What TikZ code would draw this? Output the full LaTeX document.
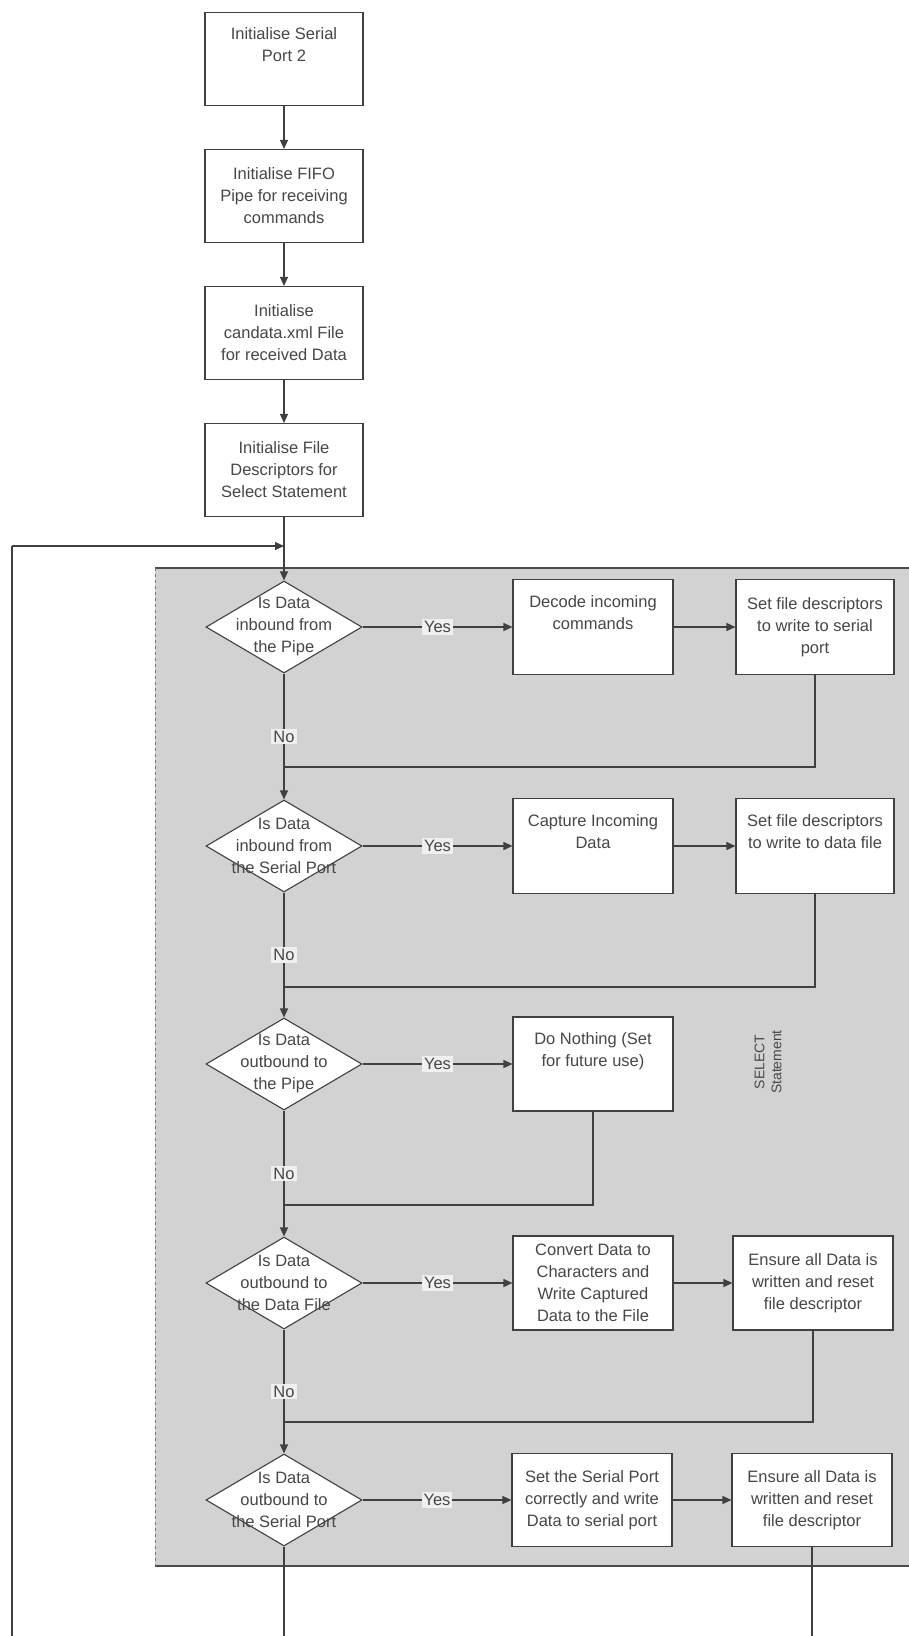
\documentclass[tikz,border=0pt]{standalone}
\usepackage{fontspec}
\setmainfont{Liberation Sans}
\usetikzlibrary{shapes.geometric,arrows.meta}
\begin{document}
\begin{tikzpicture}[x=1pt,y=-1pt,
  every node/.style={font=\fontsize{16.5}{22}\selectfont, text=black!72},
  box/.style={draw=black!75, line width=1.1pt, fill=white, minimum width=158pt, minimum height=93pt, inner sep=0pt, align=center},
  dia/.style={draw=black!75, line width=1.1pt, fill=white, diamond, minimum width=156pt, minimum height=92pt, inner sep=0pt},
  dtext/.style={align=center, inner sep=0pt},
  conn/.style={draw=black!75, line width=1.1pt},
  arr/.style={conn, -{Triangle[length=9pt,width=8pt]}},
  lab/.style={fill=gray!12, inner sep=2pt},
]
\useasboundingbox (0,0) rectangle (909,1636);
\fill[white] (0,0) rectangle (909,1636);
% grey select region
\fill[gray!35] (155,568) rectangle (909,1566);
\draw[black!70, line width=1.1pt] (155,568) -- (909,568);
\draw[black!70, line width=1.1pt] (155,1566) -- (909,1566);
\draw[black!55, line width=0.8pt, dashed] (155,568) -- (155,1566);
\node[rotate=90, align=center, font=\fontsize{14}{17}\selectfont] (sel) at (768,1062) {SELECT\\Statement};

% initialisation column
\node[box] (b1) at (284,59) {Initialise Serial\\Port 2\\\strut};
\node[box] (b2) at (284,196) {Initialise FIFO\\Pipe for receiving\\commands};
\node[box] (b3) at (284,333) {Initialise\\candata.xml File\\for received Data};
\node[box] (b4) at (284,470) {Initialise File\\Descriptors for\\Select Statement};

% decisions
\node[dia] (d1) at (284,627) {};
\node[dtext] (d1t) at (d1.center) {Is Data\\inbound from\\the Pipe};
\node[dia] (d2) at (284,846) {};
\node[dtext] (d2t) at (d2.center) {Is Data\\inbound from\\the Serial Port};
\node[dia] (d3) at (284,1064) {};
\node[dtext] (d3t) at (d3.center) {Is Data\\outbound to\\the Pipe};
\node[dia] (d4) at (284,1283) {};
\node[dtext] (d4t) at (d4.center) {Is Data\\outbound to\\the Data File};
\node[dia] (d5) at (284,1500) {};
\node[dtext] (d5t) at (d5.center) {Is Data\\outbound to\\the Serial Port};

% action boxes
\node[box, minimum width=160pt, minimum height=95pt] (m1) at (593,627) {Decode incoming\\commands\\\strut};
\node[box, minimum height=95pt] (r1) at (815,627) {Set file descriptors\\to write to serial\\port};
\node[box, minimum width=160pt, minimum height=95pt] (m2) at (593,846) {Capture Incoming\\Data\\\strut};
\node[box, minimum height=95pt] (r2) at (815,846) {Set file descriptors\\to write to data file\\\strut};
\node[box, minimum width=160pt, minimum height=94pt] (m3) at (593,1064) {Do Nothing (Set\\for future use)\\\strut};
\node[box, minimum width=160pt, minimum height=94pt] (m4) at (593,1283) {Convert Data to\\Characters and\\Write Captured\\Data to the File};
\node[box, minimum width=160pt, minimum height=94pt] (r4) at (813,1283) {Ensure all Data is\\written and reset\\file descriptor};
\node[box, minimum width=160pt, minimum height=93pt] (m5) at (592,1500) {Set the Serial Port\\correctly and write\\Data to serial port};
\node[box, minimum width=160pt, minimum height=93pt] (r5) at (812,1500) {Ensure all Data is\\written and reset\\file descriptor};

% init arrows
\draw[arr] (b1) -- (b2);
\draw[arr] (b2) -- (b3);
\draw[arr] (b3) -- (b4);
\draw[arr] (b4.south) -- (d1.north);

% loop back
\coordinate (lb) at (12,1636);
\coordinate (lt) at (12,546);
\coordinate (j0) at (284,546);
\draw[conn] (lb) -- (lt);
\draw[arr] (lt) -- (j0);

% yes branches
\draw[arr] (d1.east) -- node[lab]{Yes} (m1.west);
\draw[arr] (m1.east) -- (r1.west);
\draw[arr] (d2.east) -- node[lab]{Yes} (m2.west);
\draw[arr] (m2.east) -- (r2.west);
\draw[arr] (d3.east) -- node[lab]{Yes} (m3.west);
\draw[arr] (d4.east) -- node[lab]{Yes} (m4.west);
\draw[arr] (m4.east) -- (r4.west);
\draw[arr] (d5.east) -- node[lab]{Yes} (m5.west);
\draw[arr] (m5.east) -- (r5.west);

% no branches
\draw[arr] (d1.south) -- node[lab]{No} (d2.north);
\draw[arr] (d2.south) -- node[lab]{No} (d3.north);
\draw[arr] (d3.south) -- node[lab]{No} (d4.north);
\draw[arr] (d4.south) -- node[lab]{No} (d5.north);

% return lines
\coordinate (j1) at (284,767);
\coordinate (j2) at (284,987);
\coordinate (j3) at (284,1205);
\coordinate (j4) at (284,1422);
\draw[conn] (r1.south) |- (j1);
\draw[conn] (r2.south) |- (j2);
\draw[conn] (m3.south) |- (j3);
\draw[conn] (r4.south) |- (j4);

% bottom exits
\coordinate (e5) at (284,1636);
\coordinate (e5r) at (812,1636);
\draw[conn] (d5.south) -- (e5);
\draw[conn] (r5.south) -- (e5r);
\end{tikzpicture}
\end{document}
